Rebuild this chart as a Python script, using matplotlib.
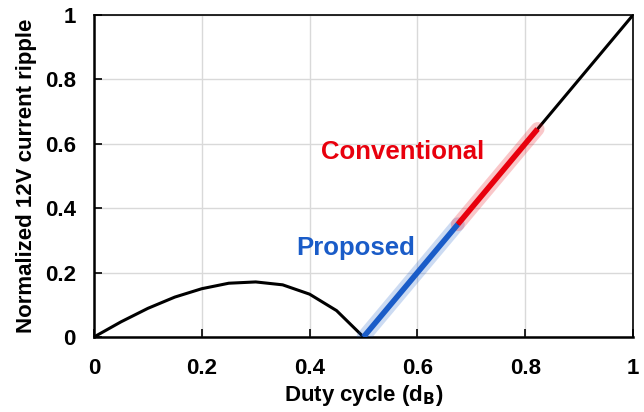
import matplotlib
matplotlib.use('Agg')
import matplotlib.pyplot as plt

plt.rcParams['font.family'] = ['Liberation Sans', 'DejaVu Sans']
plt.rcParams['font.weight'] = 'bold'

# black curve
duty = [0, 0.05, 0.1, 0.15, 0.2, 0.25, 0.3, 0.35, 0.4, 0.45, 0.5,
        0.55, 0.6, 0.65, 0.7, 0.75, 0.8, 0.85, 0.9, 0.95, 1.0]
ripple = [0, 0.047, 0.089, 0.124, 0.15, 0.167, 0.171, 0.162, 0.133, 0.082, 0,
          0.1, 0.2, 0.3, 0.4, 0.5, 0.6, 0.7, 0.8, 0.9, 1.0]

# highlighted ranges
proposed_x = [0.5, 0.675]
proposed_y = [0, 0.35]
conv_x = [0.675, 0.823]
conv_y = [0.35, 0.646]

ticks = [0, 0.2, 0.4, 0.6, 0.8, 1]
tick_labels = ['0', '0.2', '0.4', '0.6', '0.8', '1']

blue = '#1a5cc8'
red = '#e8000d'

fig = plt.figure(figsize=(6.44, 4.12), dpi=100)
ax = fig.add_axes([94 / 644, 75 / 412, 539 / 644, 322 / 412])

ax.plot(duty, ripple, color='black', lw=2.2, zorder=3, solid_joinstyle='miter')

# glow + main highlight
ax.plot(proposed_x, proposed_y, color=blue, lw=10, alpha=0.22, zorder=4, solid_capstyle='round')
ax.plot(proposed_x, proposed_y, color=blue, lw=4, zorder=5, solid_capstyle='butt')
ax.plot(conv_x, conv_y, color=red, lw=10, alpha=0.22, zorder=4, solid_capstyle='round')
ax.plot(conv_x, conv_y, color=red, lw=4, zorder=5, solid_capstyle='butt')

ax.text(0.573, 0.573, 'Conventional', color=red, fontsize=18.5, fontweight='bold',
        ha='center', va='center')
ax.text(0.486, 0.275, 'Proposed', color=blue, fontsize=18.5, fontweight='bold',
        ha='center', va='center')

ax.set_xlim(0, 1)
ax.set_ylim(0, 1)
ax.set_xticks(ticks)
ax.set_xticklabels(tick_labels)
ax.set_yticks(ticks)
ax.set_yticklabels(tick_labels)
ax.tick_params(direction='in', length=6, width=1.2, labelsize=16)
ax.tick_params(axis='x', pad=15)
ax.tick_params(axis='y', pad=13)
for lab in ax.get_xticklabels() + ax.get_yticklabels():
    lab.set_fontweight('bold')

ax.grid(True, color='#d9d9d9', lw=1)
ax.set_axisbelow(True)
for side in ['left', 'bottom']:
    ax.spines[side].set_linewidth(1.8)
for side in ['top', 'right']:
    ax.spines[side].set_linewidth(1.2)

ax.set_xlabel('Duty cycle (d$_\\mathbf{B}$)', fontsize=16, fontweight='bold', labelpad=3)
ax.set_ylabel('Normalized 12V current ripple', fontsize=16, fontweight='bold', labelpad=6)

fig.savefig('out.png', dpi=100)
